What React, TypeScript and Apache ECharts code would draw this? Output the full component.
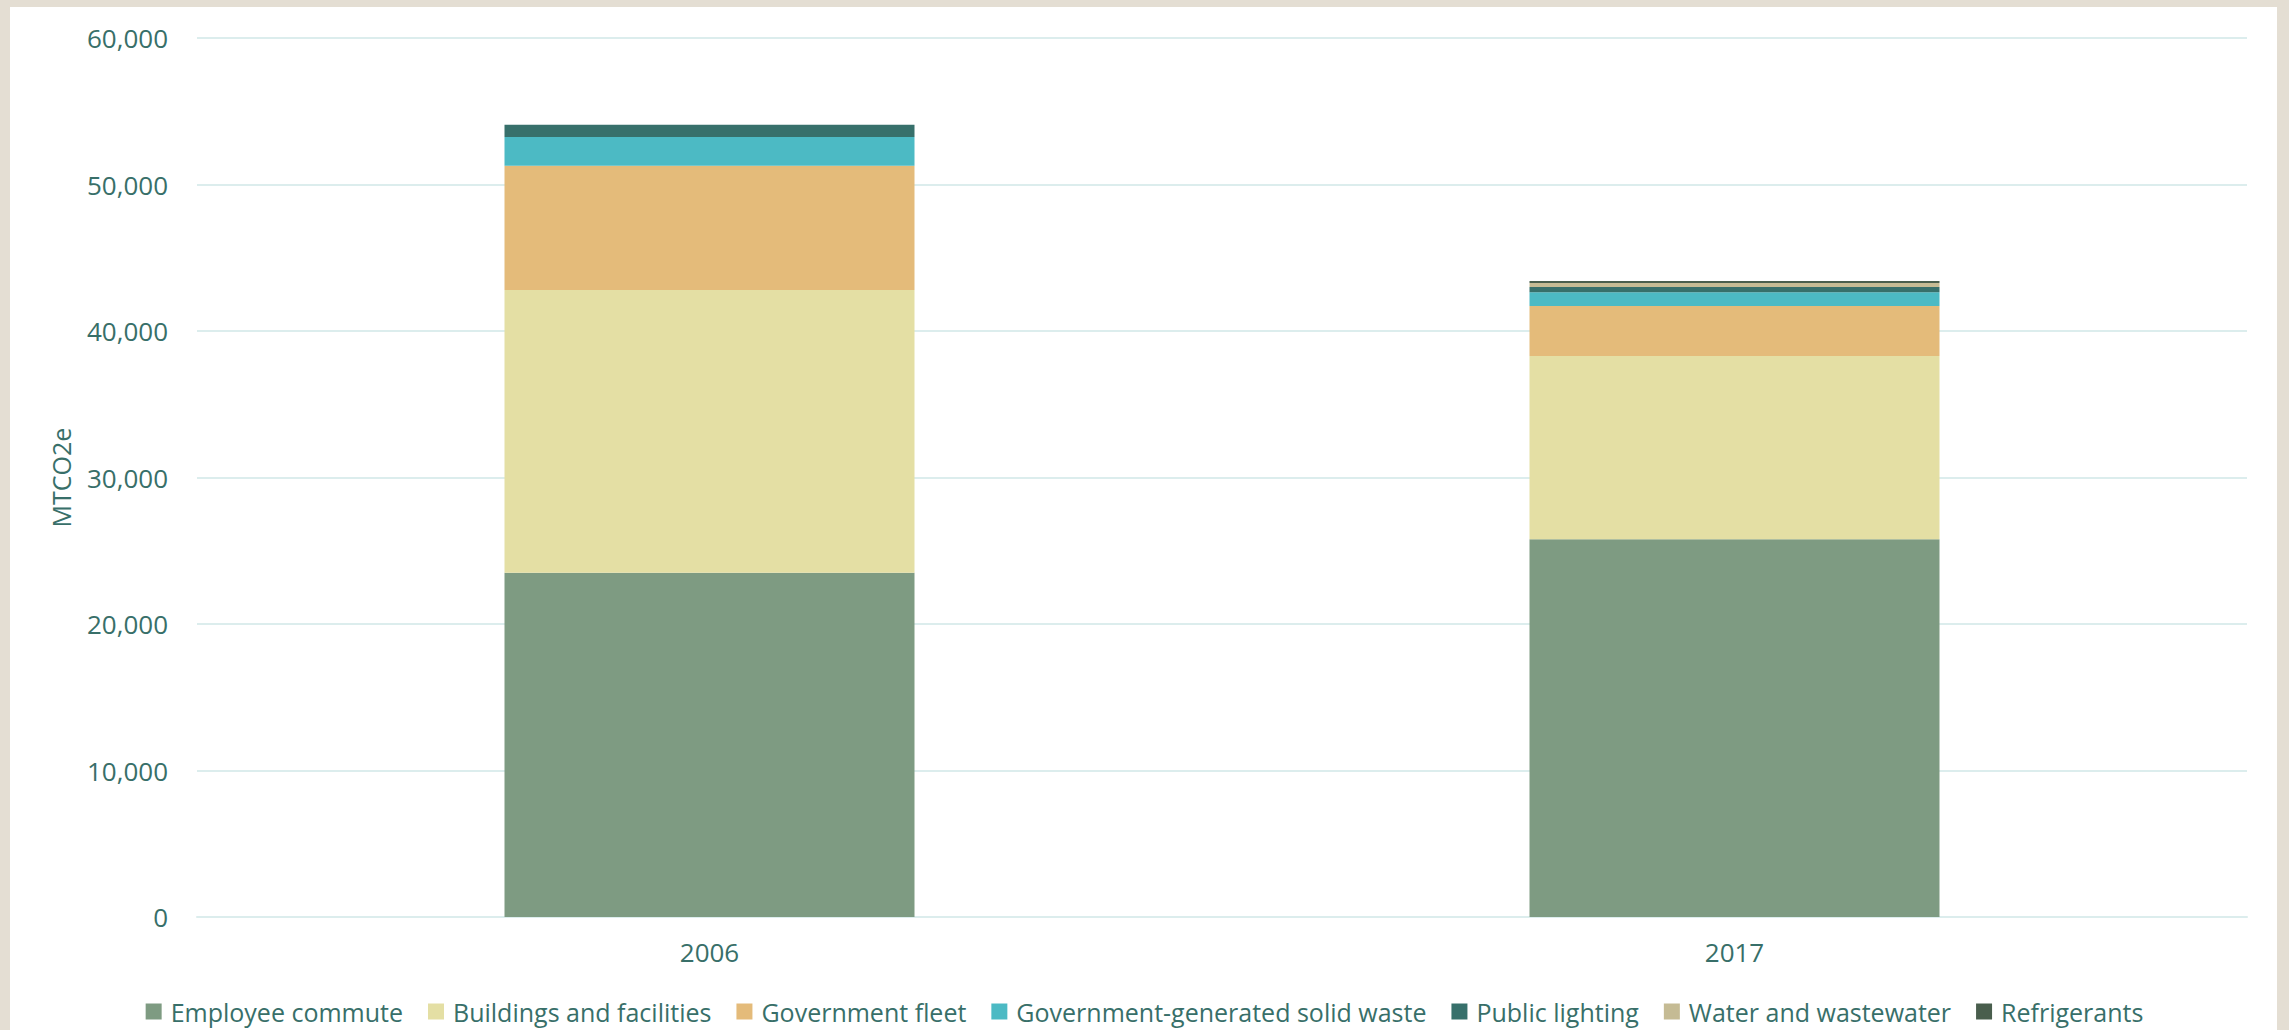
import React, { useEffect, useRef } from "react";
import * as echarts from "echarts";

const categories = ["2006", "2017"];
const seriesNames = [
  "Employee commute",
  "Buildings and facilities",
  "Government fleet",
  "Government-generated solid waste",
  "Public lighting",
  "Water and wastewater",
  "Refrigerants",
];
const employeeCommute = [23500, 25780];
const buildingsFacilities = [19300, 12510];
const governmentFleet = [8480, 3410];
const solidWaste = [1960, 940];
const publicLighting = [840, 360];
const waterWastewater = [0, 270];
const refrigerants = [0, 140];
const yTicks = { min: 0, max: 60000, interval: 10000 };

const seriesValues = [
  employeeCommute,
  buildingsFacilities,
  governmentFleet,
  solidWaste,
  publicLighting,
  waterWastewater,
  refrigerants,
];
const colors = ["#7E9B82", "#E4DFA4", "#E4BB7A", "#4CBAC4", "#37706B", "#C5BB94", "#495E4D"];

const TEXT = "#386F69";
const FONT = "'Open Sans', sans-serif";

export default function App() {
  const ref = useRef<HTMLDivElement>(null);
  useEffect(() => {
    document.body.style.margin = "0";
    if (!ref.current) return;
    const chart = echarts.init(ref.current, undefined, { renderer: "svg" });
    chart.setOption({
      animation: false,
      color: colors,
      textStyle: { fontFamily: FONT, color: TEXT },
      grid: { left: 197, right: 42, top: 38, bottom: 113 },
      legend: {
        data: seriesNames,
        bottom: 6,
        left: "center",
        icon: "rect",
        itemWidth: 16,
        itemHeight: 16,
        itemGap: 25,
        padding: 0,
        textStyle: { fontSize: 25, color: TEXT, fontFamily: FONT, padding: [0, 0, 0, 4] },
      },
      xAxis: {
        type: "category",
        data: categories,
        axisLine: { show: true, lineStyle: { color: "#DCEDED", width: 2 } },
        axisTick: { show: false },
        axisLabel: { fontSize: 26, color: TEXT, margin: 22, fontFamily: FONT },
      },
      yAxis: {
        type: "value",
        min: yTicks.min,
        max: yTicks.max,
        interval: yTicks.interval,
        name: "MTCO2e",
        nameLocation: "middle",
        nameGap: 124,
        nameTextStyle: { fontSize: 25, color: TEXT, fontFamily: FONT },
        axisLine: { show: false },
        axisTick: { show: false },
        splitLine: { lineStyle: { color: "#DCEDED", width: 2 } },
        axisLabel: {
          fontSize: 26,
          color: TEXT,
          margin: 29,
          fontFamily: FONT,
          formatter: (v: number) => v.toLocaleString("en-US"),
        },
      },
      series: seriesNames.map((name, i) => ({
        name,
        type: "bar",
        stack: "total",
        barWidth: "40%",
        data: seriesValues[i],
        itemStyle: { color: colors[i] },
      })),
    });
    return () => chart.dispose();
  }, []);

  return (
    <div style={{ position: "relative", width: 2289, height: 1030, background: "#E4DED3" }}>
      <div
        style={{
          position: "absolute",
          left: 10,
          top: 7,
          width: 2267,
          height: 1023,
          background: "#FFFFFF",
        }}
      />
      <div ref={ref} style={{ position: "absolute", left: 0, top: 0, width: 2289, height: 1030 }} />
    </div>
  );
}
